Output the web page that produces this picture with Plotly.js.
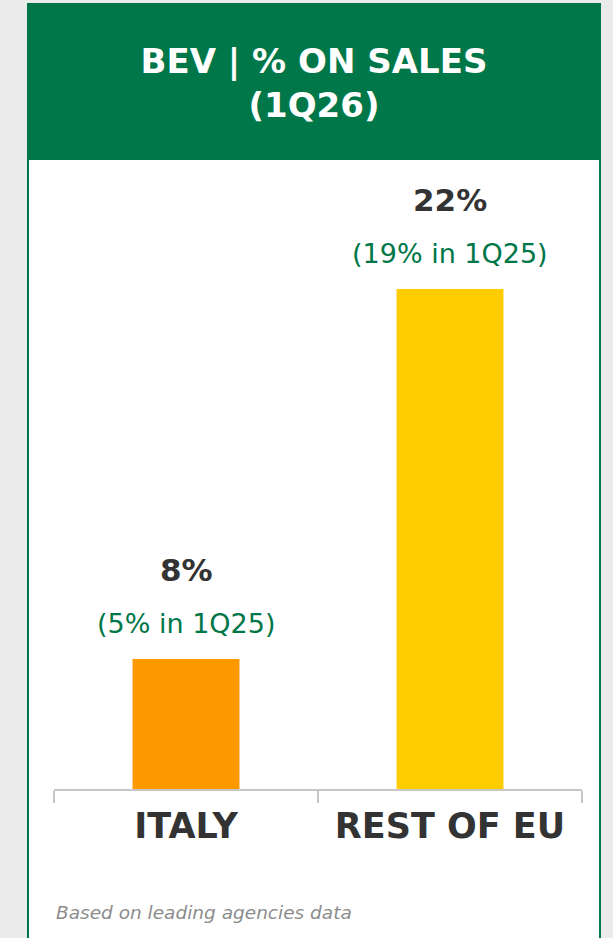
<!DOCTYPE html>
<html>
<head>
<meta charset="utf-8">
<script src="https://cdn.plot.ly/plotly-3.0.1.min.js"></script>
<style>html,body{margin:0;padding:0;background:#ebebeb;}#chart{width:613px;height:938px;}</style>
</head>
<body>
<div id="chart"></div>
<script>
const categories = ["ITALY", "REST OF EU"];
const values = [8, 22];
const prevValues = [5, 19];
const valueLabels = ["8%", "22%"];
const prevLabels = ["(5% in 1Q25)", "(19% in 1Q25)"];
const barColors = ["#FF9900", "#FFCC00"];
const titleText = "BEV | % ON SALES<br>(1Q26)";
const footnote = "Based on leading agencies data";

const W = 613, H = 938;
const px = v => v / W;
const py = v => 1 - v / H;
const GREEN = "#007749";
const FONT = "DejaVu Sans, sans-serif";

const annotations = [];
categories.forEach((c, i) => {
  annotations.push({
    x: c, y: values[i], xref: "x", yref: "y",
    text: valueLabels[i], showarrow: false,
    xanchor: "center", yanchor: "middle", yshift: 89,
    font: {family: FONT, size: 31, color: "#333333", weight: 700}
  });
  annotations.push({
    x: c, y: values[i], xref: "x", yref: "y",
    text: prevLabels[i], showarrow: false,
    xanchor: "center", yanchor: "middle", yshift: 35,
    font: {family: FONT, size: 27, color: GREEN}
  });
});
annotations.push({
  x: px(54), y: py(912), xref: "paper", yref: "paper",
  text: "<i>" + footnote + "</i>", showarrow: false,
  xanchor: "left", yanchor: "middle",
  font: {family: FONT, size: 18.5, color: "#8c8c8c"}
});

const data = [{
  type: "bar",
  x: categories,
  y: values,
  marker: {color: barColors, line: {width: 0}},
  width: 0.405,
  hoverinfo: "none"
}];

const layout = {
  width: W, height: H,
  margin: {l: 0, r: 0, t: 0, b: 0},
  paper_bgcolor: "#ebebeb",
  plot_bgcolor: "rgba(0,0,0,0)",
  showlegend: false,
  title: {
    text: titleText,
    x: px(314), xanchor: "center",
    y: py(73), yanchor: "middle",
    font: {family: FONT, size: 34, color: "#ffffff", weight: 700}
  },
  xaxis: {
    domain: [px(54), px(582)],
    range: [-0.5, 1.5],
    showline: true, linecolor: "#c6c6c6", linewidth: 2,
    ticks: "outside", tickson: "boundaries", ticklen: 12, tickwidth: 2, tickcolor: "#c6c6c6",
    showgrid: false, zeroline: false,
    tickfont: {family: FONT, size: 35, color: "#333333", weight: 700},
    ticklabelstandoff: 5
  },
  yaxis: {
    domain: [1 - 789 / H, 1 - 160 / H],
    range: [3.08, 26.88],
    visible: false, showgrid: false, zeroline: false, fixedrange: true
  },
  shapes: [
    {type: "rect", xref: "paper", yref: "paper", layer: "below",
     x0: px(28), x1: px(600), y0: -0.02, y1: py(4),
     fillcolor: "#ffffff", line: {color: GREEN, width: 2}},
    {type: "rect", xref: "paper", yref: "paper", layer: "below",
     x0: px(27), x1: px(601), y0: py(160), y1: py(4),
     fillcolor: GREEN, line: {width: 0}}
  ],
  annotations: annotations
};

Plotly.newPlot("chart", data, layout, {displayModeBar: false, staticPlot: true});
</script>
</body>
</html>
